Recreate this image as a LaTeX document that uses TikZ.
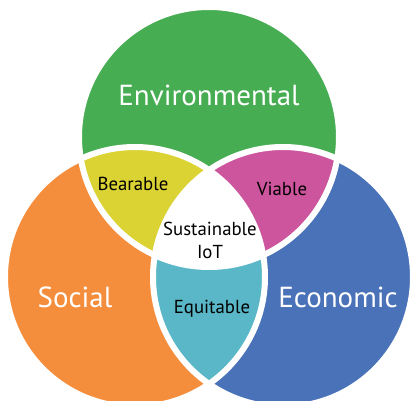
\documentclass[tikz,border=0pt]{standalone}
\usepackage{fontspec}
\setmainfont{PT Sans}
\definecolor{cgreen}{RGB}{70,173,82}
\definecolor{corange}{RGB}{245,142,60}
\definecolor{cblue}{RGB}{74,114,184}
\definecolor{cyellow}{RGB}{219,211,51}
\definecolor{cmagenta}{RGB}{205,85,157}
\definecolor{cteal}{RGB}{89,183,199}
\tikzset{
  big/.style={text=white,font=\fontsize{29}{32}\selectfont,inner sep=0pt},
  small/.style={text=black,font=\fontsize{18.8}{23}\selectfont,inner sep=0pt,align=center},
  gap/.style={draw=white,line width=6pt}
}
\begin{document}
\begin{tikzpicture}[x=1pt,y=-1pt]
\useasboundingbox (0,0) rectangle (410,401);
\coordinate (G) at (209,137);
\coordinate (O) at (135,277);
\coordinate (B) at (283,277);
\fill[cgreen] (G) circle (130pt);
\fill[corange] (O) circle (130pt);
\fill[cblue] (B) circle (130pt);
\begin{scope}\clip (G) circle (130pt); \fill[cyellow] (O) circle (130pt);\end{scope}
\begin{scope}\clip (G) circle (130pt); \fill[cmagenta] (B) circle (130pt);\end{scope}
\begin{scope}\clip (O) circle (130pt); \fill[cteal] (B) circle (130pt);\end{scope}
\begin{scope}\clip (G) circle (130pt); \clip (O) circle (130pt); \fill[white] (B) circle (130pt);\end{scope}
\draw[gap] (G) circle (130pt);
\draw[gap] (O) circle (130pt);
\draw[gap] (B) circle (130pt);
\node[big] (env) at (209,95) {Environmental};
\node[big] (soc) at (75,297) {Social};
\node[big] (eco) at (338,297) {Economic};
\node[small] (bea) at (133,184) {Bearable};
\node[small] (via) at (282,189) {Viable};
\node[small] (equ) at (212,309) {Equitable};
\node[small] (sus) at (210,240) {Sustainable\\IoT};
\end{tikzpicture}
\end{document}
